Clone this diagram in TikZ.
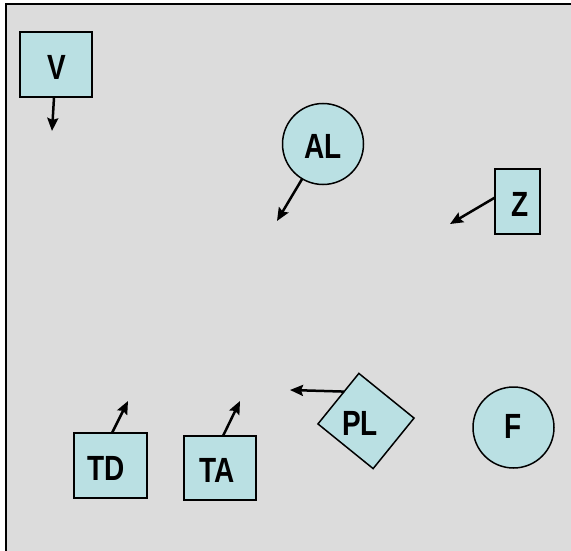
\documentclass[tikz,border=0pt]{standalone}
\usepackage{fontspec}
\setmainfont{Liberation Sans}
\usetikzlibrary{arrows.meta,calc}
\definecolor{panelgray}{RGB}{220,220,220}
\definecolor{nodecyan}{RGB}{186,224,227}
\newcommand{\narrowlbl}[1]{\scalebox{0.8}[1]{#1}}
\begin{document}
\begin{tikzpicture}[x=1pt,y=-1pt,
  shapebase/.style={draw=black,fill=nodecyan,line width=1.5pt,inner sep=0pt,outer sep=0pt},
  boxnode/.style={shapebase,rectangle},
  roundnode/.style={shapebase,circle,minimum size=81pt},
  lbl/.style={font=\fontsize{35}{35}\selectfont\bfseries,inner sep=0pt},
  arr/.style={line width=2.5pt,-{Stealth[length=13pt,width=11pt,inset=2pt]}}
]
\useasboundingbox (0,0) rectangle (571,551);
% panel
\fill[panelgray] (6,4) rectangle (571,551);
\draw[line width=2pt] (6,551) -- (6,4) -- (571,4);

% boxes
\node[boxnode,minimum width=72pt,minimum height=65pt] (V) at (56,64.5) {};
\node[lbl] (Vt) at (57,67) {\narrowlbl{V}};
\node[boxnode,minimum width=45pt,minimum height=65pt] (Z) at (517.5,201.5) {};
\node[lbl] (Zt) at (520,204) {\narrowlbl{Z}};
\node[boxnode,minimum width=73pt,minimum height=65pt] (TD) at (110.5,465.5) {};
\node[lbl] (TDt) at (106,468) {\narrowlbl{TD}};
\node[boxnode,minimum width=72pt,minimum height=64pt] (TA) at (220,468) {};
\node[lbl] (TAt) at (217.5,470) {\narrowlbl{TA}};

% circles
\node[roundnode] (AL) at (323,144) {};
\node[lbl] (ALt) at (323,146) {\narrowlbl{AL}};
\node[roundnode] (F) at (513.5,427.5) {};
\node[lbl] (Ft) at (513,426.5) {\narrowlbl{F}};

% tilted square
\node[boxnode,minimum width=71pt,minimum height=65pt,rotate=-39] (PLbox) at (366,421) {};
\node[lbl] (PLt) at (360,423) {\narrowlbl{PL}};

% free arrow ends
\coordinate (Vend) at (52,131);
\coordinate (ALend) at (277,221);
\coordinate (Zend) at (450,224);
\coordinate (TDend) at (128,401);
\coordinate (TAend) at (240,401);
\coordinate (PLend) at (290,390);

% arrows
\draw[arr] (V) -- (Vend);
\draw[arr] (AL) -- (ALend);
\draw[arr] ([yshift=4pt]Z.west) -- (Zend);
\draw[arr] ([xshift=1.5pt]TD.north) -- (TDend);
\draw[arr] ([xshift=3pt]TA.north) -- (TAend);
\draw[arr] ($(PLbox.north west)!0.36!(PLbox.south west)$) -- (PLend);
\end{tikzpicture}
\end{document}
